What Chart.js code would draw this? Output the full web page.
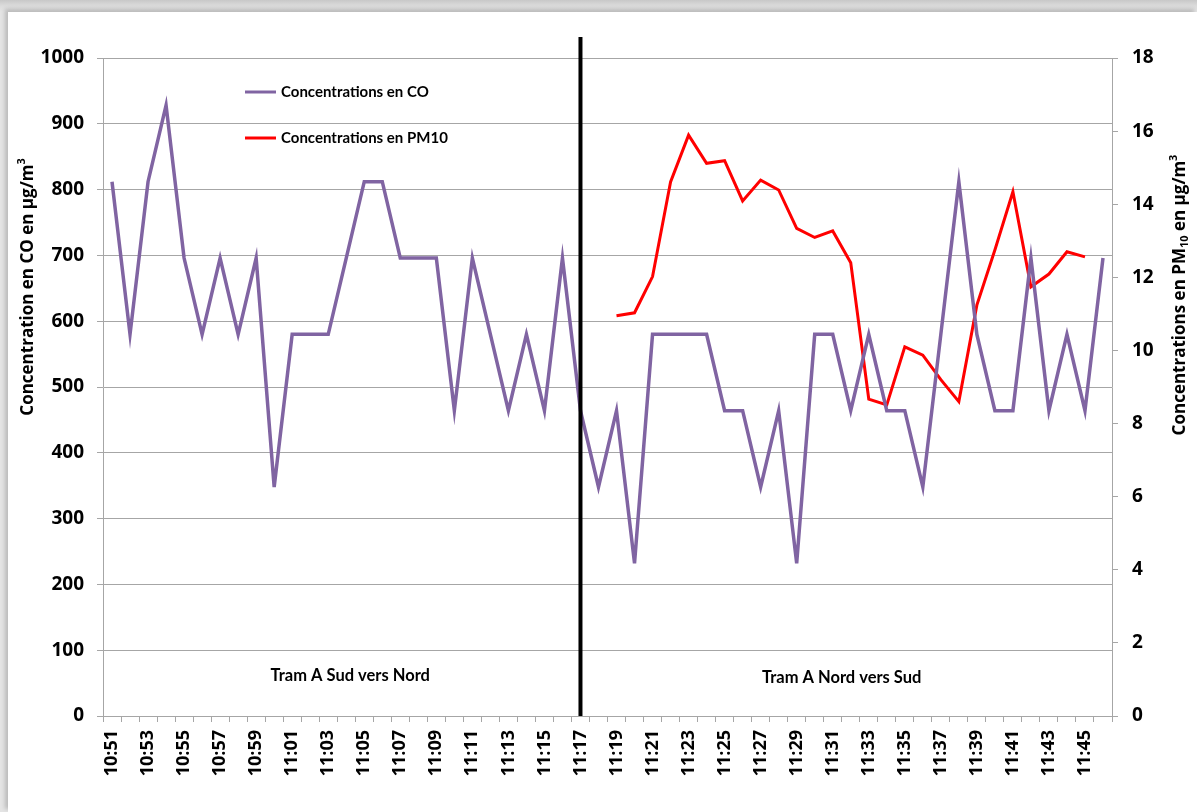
<!DOCTYPE html>
<html>
<head>
<meta charset="utf-8">
<script src="https://cdn.jsdelivr.net/npm/chart.js@4.4.1/dist/chart.umd.min.js"></script>
<style>
    html, body { margin: 0; padding: 0; }
    body {
        width: 1197px;
        height: 812px;
        overflow: hidden;
        background: linear-gradient(to bottom, #c8c8c8, #dcdcdc 6px, #e4e4e4 12px);
        position: relative;
    }
    .panel {
        position: absolute;
        left: 8px;
        top: 12px;
        width: 1189px;
        height: 800px;
        background: #ffffff;
        box-shadow: -3px -3px 4px rgba(0, 0, 0, 0.18);
    }
    canvas { display: block; }
</style>
</head>
<body>
<div class="panel">
    <canvas id="coChart" width="1189" height="800"></canvas>
</div>
<script>
// minutes from 10:51 to 11:46
const timeLabels = [
    '10:51', '10:52', '10:53', '10:54', '10:55', '10:56', '10:57', '10:58', '10:59', '11:00',
    '11:01', '11:02', '11:03', '11:04', '11:05', '11:06', '11:07', '11:08', '11:09', '11:10',
    '11:11', '11:12', '11:13', '11:14', '11:15', '11:16', '11:17', '11:18', '11:19', '11:20',
    '11:21', '11:22', '11:23', '11:24', '11:25', '11:26', '11:27', '11:28', '11:29', '11:30',
    '11:31', '11:32', '11:33', '11:34', '11:35', '11:36', '11:37', '11:38', '11:39', '11:40',
    '11:41', '11:42', '11:43', '11:44', '11:45', '11:46'
];

const coValues = [
    812, 580, 812, 928, 696, 580, 696, 580, 696, 348,
    580, 580, 580, 696, 812, 812, 696, 696, 696, 464,
    696, 580, 464, 580, 464, 696, 464, 348, 464, 232,
    580, 580, 580, 580, 464, 464, 348, 464, 232, 580,
    580, 464, 580, 464, 464, 348, 580, 812, 580, 464,
    464, 696, 464, 580, 464, 696
];

const pm10Values = [
    null, null, null, null, null, null, null, null, null, null,
    null, null, null, null, null, null, null, null, null, null,
    null, null, null, null, null, null, null, null, 10.95, 11.03,
    12.02, 14.61, 15.89, 15.12, 15.19, 14.09, 14.66, 14.39, 13.34, 13.09,
    13.27, 12.40, 8.67, 8.51, 10.10, 9.87, 9.20, 8.60, 11.24, 12.75,
    14.34, 11.74, 12.09, 12.70, 12.56, null
];

const coTicks = [0, 100, 200, 300, 400, 500, 600, 700, 800, 900, 1000];
const pmTicks = [0, 2, 4, 6, 8, 10, 12, 14, 16, 18];

const splitLabel = '11:17';
const sectionNotes = [
    { text: 'Tram A Sud vers Nord', at: '11:04', dx: 4, value: 62 },
    { text: 'Tram A Nord vers Sud', at: '11:31', dx: 9, value: 58 }
];

// axis titles in pieces: [text, 'sub' | 'sup' | null]
const leftTitle = [['Concentration en CO en µg/m', null], ['3', 'sup']];
const rightTitle = [['Concentrations en PM', null], ['10', 'sub'], [' en µg/m', null], ['3', 'sup']];

const FONT = "'Open Sans', 'DejaVu Sans', sans-serif";
const LABEL_FONT = "Lato, 'Open Sans', sans-serif";
const AXIS_GREY = '#a6a6a6';

function drawRotatedTitle(ctx, parts, cx, cy, size) {
    const big = 'bold ' + size + 'px ' + FONT;
    const small = 'bold ' + Math.round(size * 0.62) + 'px ' + FONT;
    let total = 0;
    parts.forEach(p => {
        ctx.font = p[1] ? small : big;
        total += ctx.measureText(p[0]).width;
    });
    ctx.save();
    ctx.translate(cx, cy);
    ctx.rotate(-Math.PI / 2);
    ctx.fillStyle = '#000000';
    ctx.textAlign = 'left';
    ctx.textBaseline = 'middle';
    let x = -total / 2;
    parts.forEach(p => {
        ctx.font = p[1] ? small : big;
        let dy = 0;
        if (p[1] === 'sub') dy = size * 0.3;
        if (p[1] === 'sup') dy = -size * 0.38;
        ctx.fillText(p[0], x, dy);
        x += ctx.measureText(p[0]).width;
    });
    ctx.restore();
}

// black separator, section notes, axis titles and the in-plot legend
const extrasPlugin = {
    id: 'extras',
    afterDatasetsDraw(chart) {
        const ctx = chart.ctx;
        const x = chart.scales.x;
        const y = chart.scales.y;
        const area = chart.chartArea;

        const sx = x.getPixelForValue(timeLabels.indexOf(splitLabel));
        ctx.save();
        ctx.strokeStyle = '#000000';
        ctx.lineWidth = 4;
        ctx.beginPath();
        ctx.moveTo(sx, area.top - 21);
        ctx.lineTo(sx, area.bottom);
        ctx.stroke();

        ctx.fillStyle = '#000000';
        ctx.font = 'bold 16.5px ' + LABEL_FONT;
        ctx.textAlign = 'center';
        ctx.textBaseline = 'middle';
        sectionNotes.forEach(n => {
            const px = x.getPixelForValue(timeLabels.indexOf(n.at)) + n.dx;
            ctx.fillText(n.text, px, y.getPixelForValue(n.value));
        });

        // legend
        ctx.textAlign = 'left';
        ctx.font = 'bold 15px ' + LABEL_FONT;
        chart.data.datasets.forEach((ds, i) => {
            const ly = 80 + i * 46;
            ctx.strokeStyle = ds.borderColor;
            ctx.lineWidth = 3;
            ctx.beginPath();
            ctx.moveTo(237, ly);
            ctx.lineTo(268, ly);
            ctx.stroke();
            ctx.fillStyle = '#000000';
            ctx.fillText(ds.label, 273, ly);
        });
        ctx.restore();

        drawRotatedTitle(ctx, leftTitle, 20, 275, 17);
        drawRotatedTitle(ctx, rightTitle, 1172, 283, 17);
    }
};

const ctx = document.getElementById('coChart').getContext('2d');
new Chart(ctx, {
    type: 'line',
    data: {
        labels: timeLabels,
        datasets: [{
            label: 'Concentrations en CO',
            data: coValues,
            borderColor: '#8064a2',
            borderWidth: 3.5,
            pointRadius: 0,
            tension: 0,
            yAxisID: 'y'
        }, {
            label: 'Concentrations en PM10',
            data: pm10Values,
            borderColor: '#ff0000',
            borderWidth: 3,
            pointRadius: 0,
            tension: 0,
            spanGaps: false,
            yAxisID: 'y1'
        }]
    },
    options: {
        responsive: false,
        animation: false,
        layout: {
            padding: { top: 46, left: 0, right: 0, bottom: 0 }
        },
        plugins: {
            legend: { display: false },
            tooltip: { enabled: false }
        },
        scales: {
            x: {
                offset: true,
                grid: {
                    offset: true,
                    drawOnChartArea: false,
                    drawTicks: true,
                    tickLength: 6,
                    color: AXIS_GREY
                },
                border: { color: AXIS_GREY, width: 1 },
                ticks: {
                    autoSkip: false,
                    minRotation: 90,
                    maxRotation: 90,
                    padding: 8,
                    color: '#000000',
                    font: { family: FONT, size: 18, weight: 'bold' },
                    callback: (v, i) => (i % 2 === 0 ? timeLabels[i] : '')
                },
                afterFit(scale) { scale.height = 96; }
            },
            y: {
                position: 'left',
                min: coTicks[0],
                max: coTicks[coTicks.length - 1],
                afterBuildTicks(scale) { scale.ticks = coTicks.map(v => ({ value: v })); },
                grid: {
                    color: AXIS_GREY,
                    tickLength: 6
                },
                border: { color: AXIS_GREY, width: 1 },
                ticks: {
                    padding: 13,
                    color: '#000000',
                    font: { family: FONT, size: 19, weight: 'bold' },
                    callback: v => String(v)
                },
                afterFit(scale) { scale.width = 95; }
            },
            y1: {
                position: 'right',
                min: pmTicks[0],
                max: pmTicks[pmTicks.length - 1],
                afterBuildTicks(scale) { scale.ticks = pmTicks.map(v => ({ value: v })); },
                grid: {
                    drawOnChartArea: false,
                    color: AXIS_GREY,
                    tickLength: 6
                },
                border: { color: AXIS_GREY, width: 1 },
                ticks: {
                    padding: 14,
                    color: '#000000',
                    font: { family: FONT, size: 19, weight: 'bold' },
                    callback: v => String(v)
                },
                afterFit(scale) { scale.width = 85; }
            }
        }
    },
    plugins: [extrasPlugin]
});
</script>
</body>
</html>
